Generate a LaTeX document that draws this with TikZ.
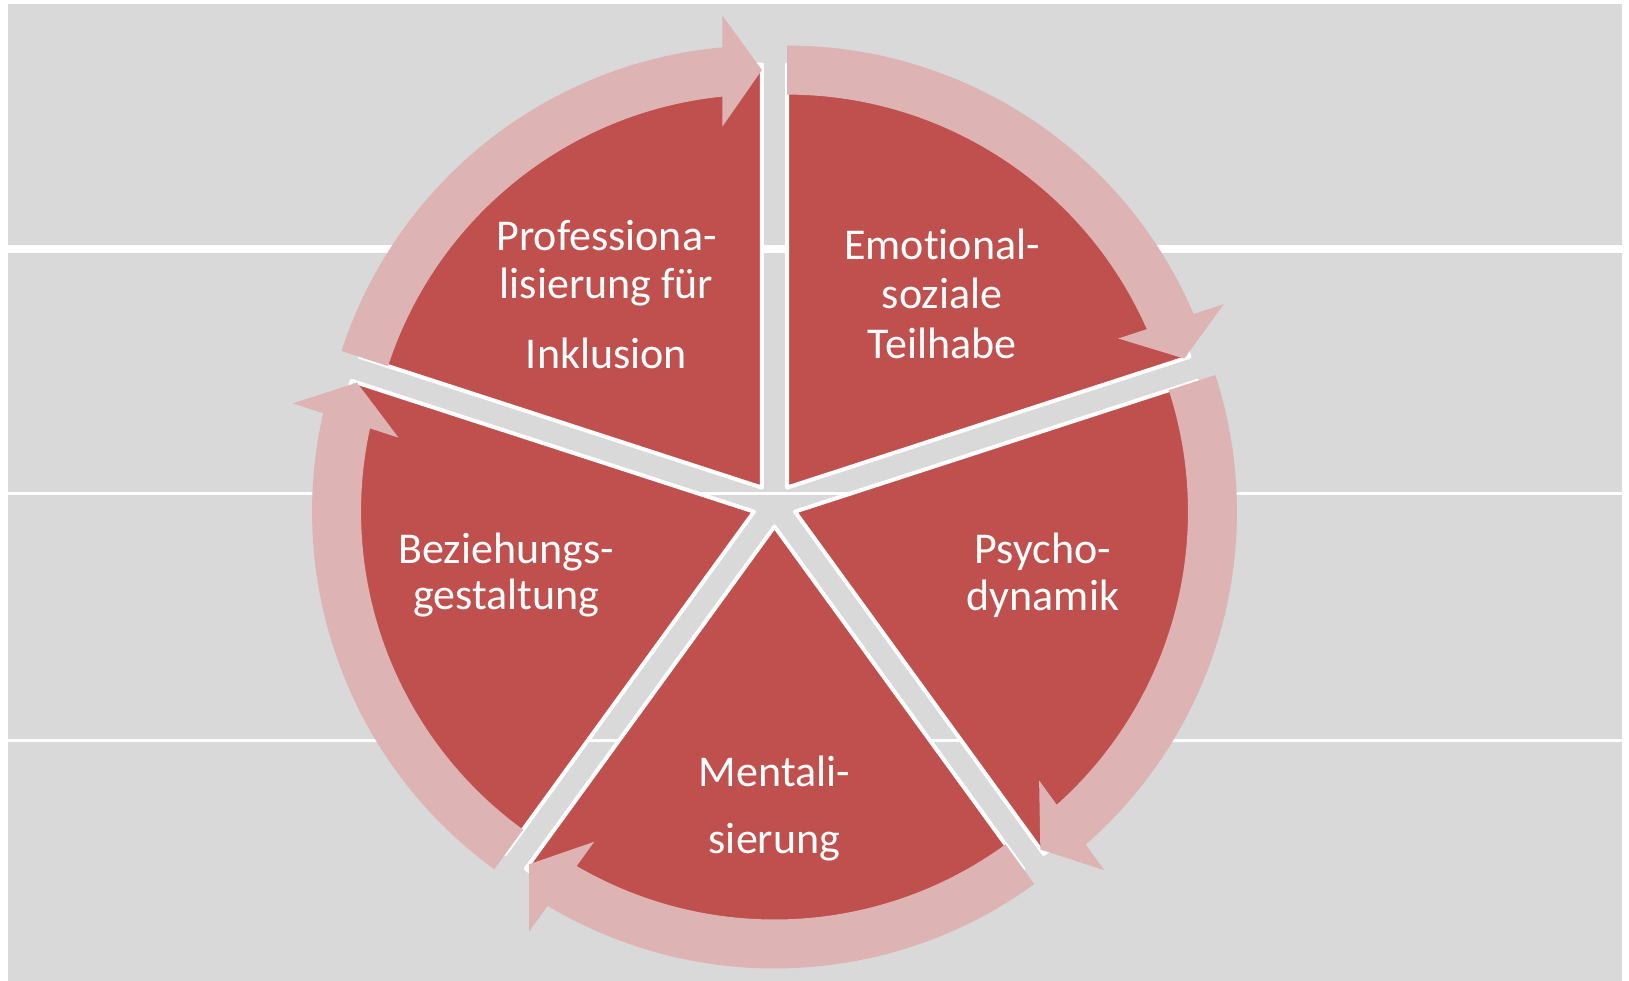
\documentclass[tikz,border=0pt]{standalone}
\usepackage{fontspec}
\newfontfamily\lblfont[Ligatures={NoCommon}]{Carlito}
\usetikzlibrary{calc}
\definecolor{bggray}{HTML}{D9D9D9}
\definecolor{slicered}{HTML}{C0504D}
\definecolor{arrowpink}{HTML}{DDB3B3}
\begin{document}
\begin{tikzpicture}[x=1pt,y=1pt,
  slice/.style={fill=slicered, draw=white, line width=4pt, line join=round},
  cyclearrow/.style={fill=arrowpink},
  lbl/.style={text=white, font=\lblfont\fontsize{44}{52}\selectfont, anchor=base, inner sep=0pt}]
\useasboundingbox (0,0) rectangle (1629,981);
\fill[white] (0,0) rectangle (1629,981);
\fill[bggray] (8,0) rectangle (1622,976.7);
\fill[white] (0,728) rectangle (1629,736);
\fill[white] (0,486) rectangle (1629,489);
\fill[white] (0,239) rectangle (1629,242);
\coordinate (C) at (774.5,476);
% pie slices
\foreach \b in {54,-18,-90,-162,126}{
  \draw[slice] ($(C)+(\b:21.5)$) -- ++(\b+36:423) arc[start angle=\b+36, end angle=\b-36, radius=423] -- cycle;
}
% cycle arrows
\foreach \b in {54,-18,-90,-162,126}{
  \pgfmathsetmacro\s{\b+36}
  \pgfmathsetmacro\e{\b-36}
  \pgfmathsetmacro\ho{\b-36+5.13}
  \pgfmathsetmacro\hi{\b-36+5.77}
  \pgfmathsetmacro\t{\b-36+90}
  \coordinate (A) at ($(C)+(\b:21.5)$);
  \fill[cyclearrow] ($(A)+(\s:442)$) arc[start angle=\s, end angle=\ho, radius=442]
    -- ($(A)+(\e:472)+(\t:39.5)$) -- ($(A)+(\e:417.5)$) -- ($(A)+(\e:361)+(\t:39.5)$)
    -- ($(A)+(\hi:393)$) arc[start angle=\hi, end angle=\s, radius=393] -- cycle;
}
% labels
\node[lbl] (p1) at (606.5,730.3) {Professiona-};
\node[lbl] (p2) at (606.5,682.7) {lisierung für};
\node[lbl] (p3) at (606.5,612.7) {Inklusion};
\node[lbl] (e1) at (942,721) {Emotional-};
\node[lbl] (e2) at (942,672) {soziale};
\node[lbl] (e3) at (942,622) {Teilhabe};
\node[lbl] (b1) at (506,417.7) {Beziehungs-};
\node[lbl] (b2) at (506,371) {gestaltung};
\node[lbl] (d1) at (1043,417) {Psycho-};
\node[lbl] (d2) at (1043,370) {dynamik};
\node[lbl] (m1) at (774.5,194) {Mentali-};
\node[lbl] (m2) at (774.5,127) {sierung};
\end{tikzpicture}
\end{document}
